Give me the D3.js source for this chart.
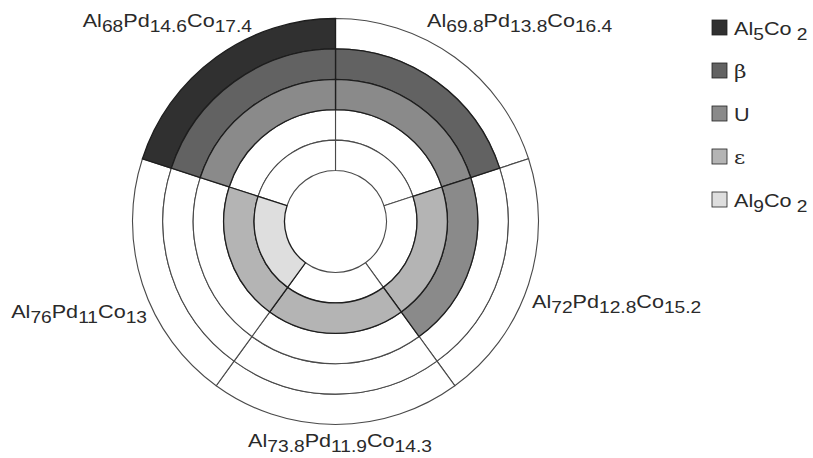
<!DOCTYPE html>
<html>
<head>
<meta charset="utf-8">
<script src="https://cdn.jsdelivr.net/npm/d3@7"></script>
<style>
  body { margin: 0; background: #fff; }
  svg { display: block; }
  text { font-family: "Liberation Sans", Arial, sans-serif; fill: #2a2a2a; }
</style>
</head>
<body>
<div id="chart"></div>
<script>
// alloy compositions, clockwise from 12 o'clock
const alContent = ['69.8', '72', '73.8', '76', '68'];
const pdContent = ['13.8', '12.8', '11.9', '11', '14.6'];
const coContent = ['16.4', '15.2', '14.3', '13', '17.4'];

// phases, outer ring first (same order as the legend)
const phases = ['Al5Co2', 'beta', 'U', 'eps', 'Al9Co2'];
const phaseColors = ['#303030', '#626262', '#8a8a8a', '#b4b4b4', '#dedede'];

// 1 = phase present in that alloy
const presentAl5Co2 = [0, 0, 0, 0, 1];
const presentBeta   = [1, 0, 0, 0, 1];
const presentU      = [1, 1, 0, 0, 1];
const presentEps    = [0, 1, 1, 1, 0];
const presentAl9Co2 = [0, 0, 0, 1, 0];
const presence = [presentAl5Co2, presentBeta, presentU, presentEps, presentAl9Co2];

const width = 813;
const height = 458;
const cx = 335.5;
const cy = 221.5;
const holeRadius = 51;
const outerRadius = 203;
const sx = 1.2; // text in the figure is stretched horizontally

const svg = d3.select('#chart')
    .append('svg')
    .attr('width', width)
    .attr('height', height);

const ringScale = d3.scaleBand()
    .domain(phases.slice().reverse())
    .range([holeRadius, outerRadius]);

const color = d3.scaleOrdinal()
    .domain(phases)
    .range(phaseColors);

const pie = d3.pie()
    .sort(null)
    .value(() => 1);

const slices = pie(alContent);

const chart = svg.append('g')
    .attr('transform', `translate(${cx}, ${cy})`);

const cells = [];
phases.forEach((p, i) => {
    slices.forEach((s, j) => {
        cells.push({ phase: p, on: presence[i][j], start: s.startAngle, end: s.endAngle });
    });
});

const arc = d3.arc()
    .innerRadius((d) => ringScale(d.phase))
    .outerRadius((d) => ringScale(d.phase) + ringScale.bandwidth())
    .startAngle((d) => d.start)
    .endAngle((d) => d.end);

// empty cells first, filled ones on top
chart.selectAll('path.cell')
    .data(cells.slice().sort((a, b) => a.on - b.on))
    .enter()
        .append('path')
        .attr('class', 'cell')
        .attr('d', arc)
        .attr('fill', (d) => d.on ? color(d.phase) : '#fff')
        .attr('stroke', (d) => d.on ? '#1e1e1e' : '#4a4a4a')
        .attr('stroke-width', (d) => d.on ? 1.3 : 1.1);

// text with subscripts
function richText(g, parts, size, subSize, anchor) {
    const t = g.append('text')
        .attr('text-anchor', anchor)
        .attr('font-size', size);
    parts.forEach((p) => {
        const ts = t.append('tspan').text(p.text);
        if (p.sub) {
            ts.attr('font-size', subSize).attr('dy', 5);
        } else {
            ts.attr('dy', p.first ? 0 : -5);
        }
        if (p.serif) ts.attr('font-family', '"DejaVu Serif", "Liberation Serif", serif');
    });
    return t;
}

// label placement relative to the centre
const labelDx = [91.5, 196.5, 4.5, -188.5, -83.5];
const labelDy = [-194.5, 86.5, 225.5, 96.5, -194.5];
const labelAnchor = ['start', 'start', 'middle', 'end', 'end'];

slices.forEach((s, j) => {
    const g = svg.append('g')
        .attr('transform', `translate(${cx + labelDx[j]}, ${cy + labelDy[j]}) scale(${sx}, 1)`);
    richText(g, [
        { text: 'Al', first: true },
        { text: alContent[j], sub: true },
        { text: 'Pd' },
        { text: pdContent[j], sub: true },
        { text: 'Co' },
        { text: coContent[j], sub: true }
    ], 18, 16, labelAnchor[j]);
});

// legend
const legendText = [
    [{ text: 'Al', first: true }, { text: '5', sub: true }, { text: 'Co' }, { text: ' 2', sub: true }],
    [{ text: 'β', first: true, serif: true }],
    [{ text: 'U', first: true }],
    [{ text: 'ε', first: true, serif: true }],
    [{ text: 'Al', first: true }, { text: '9', sub: true }, { text: 'Co' }, { text: ' 2', sub: true }]
];

const legendY = d3.scalePoint()
    .domain(phases)
    .range([35, 207]);

const legend = svg.selectAll('g.legend')
    .data(phases)
    .enter()
        .append('g')
        .attr('class', 'legend')
        .attr('transform', (d) => `translate(0, ${legendY(d)})`);

legend.append('rect')
    .attr('x', 712)
    .attr('y', -15)
    .attr('width', 15)
    .attr('height', 15)
    .attr('fill', (d) => color(d))
    .attr('stroke', '#222')
    .attr('stroke-width', 0.8);

legend.each(function (d, i) {
    const g = d3.select(this).append('g')
        .attr('transform', `translate(734, 0) scale(${sx}, 1)`);
    richText(g, legendText[i], 18, 16, 'start');
});
</script>
</body>
</html>
